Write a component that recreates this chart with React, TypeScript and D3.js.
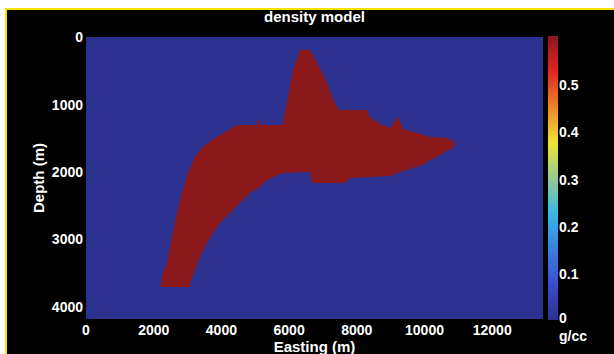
import React from "react";
import * as d3 from "d3";

// Figure size
const W = 614;
const H = 354;

// Axis ticks
const eastingTicks = [0, 2000, 4000, 6000, 8000, 10000, 12000];
const depthTicks = [0, 1000, 2000, 3000, 4000];
const densityTicks = [0, 0.1, 0.2, 0.3, 0.4, 0.5];

// Model extents
const eastingMax = 13500;
const depthMax = 4180;
const densityMax = 0.6;

// Density contrast of the host rock and of the body (g/cc)
const backgroundDensity = 0;
const bodyDensity = 0.6;

// Outline of the dense body: easting (m) and depth (m), clockwise from the toe
const bodyEasting = [
  2216, 2245, 2393, 2540, 2688, 2836, 3013, 3220, 3456, 3722, 4165, 4461, 5051,
  5110, 5170, 5819, 5849, 5967, 6115, 6322, 6617, 6824, 6971, 7119, 7267, 7415,
  7503, 8301, 8389, 8685, 8980, 9216, 9364, 9778, 10162, 10664, 10900, 10841,
  10546, 10369, 10162, 9955, 9660, 9276, 8980, 7799, 7651, 6676, 6617, 5819,
  5347, 5140, 4844, 4549, 4254, 3958, 3752, 3574, 3368, 3220, 3072, 3072,
];
const bodyDepth = [
  3704, 3556, 3348, 2963, 2607, 2311, 2015, 1778, 1630, 1526, 1393, 1304, 1304,
  1200, 1304, 1304, 1185, 889, 489, 193, 193, 385, 519, 681, 889, 1037, 1081,
  1081, 1185, 1289, 1348, 1185, 1363, 1422, 1481, 1496, 1556, 1644, 1719, 1778,
  1822, 1896, 1941, 2000, 2059, 2089, 2163, 2163, 2000, 2015, 2118, 2222, 2311,
  2459, 2607, 2756, 2904, 3052, 3259, 3452, 3644, 3704,
];

// Jet-like palette
const paletteFractions = [0, 0.125, 0.375, 0.625, 0.875, 1];
const paletteColors = ["#2c3190", "#3a4cd0", "#38b6ea", "#f2e232", "#e32620", "#8a1719"];

const FONT = "'Liberation Sans', Arial, Helvetica, sans-serif";

export default function App() {
  const plot = { left: 86, right: 543, top: 37, bottom: 319 };
  const bar = { left: 548, right: 558, top: 36, bottom: 320 };

  const x = d3.scaleLinear().domain([0, eastingMax]).range([plot.left, plot.right]);
  const y = d3.scaleLinear().domain([0, depthMax]).range([plot.top, plot.bottom]);
  const c = d3.scaleLinear().domain([0, densityMax]).range([bar.bottom, bar.top]);

  const color = d3
    .scaleLinear<string>()
    .domain(paletteFractions.map((f) => f * densityMax))
    .range(paletteColors)
    .interpolate(d3.interpolateRgb);

  const body = bodyEasting.map((e, i) => [e, bodyDepth[i]] as [number, number]);
  const bodyPath =
    d3
      .line<[number, number]>()
      .x((d) => x(d[0]))
      .y((d) => y(d[1]))(body) + "Z";

  const gradStops = d3.range(0, 1.0001, 0.02);

  const textStyle = {
    fill: "#fff",
    fontFamily: FONT,
    fontWeight: 700 as const,
  };

  return (
    <svg
      width={W}
      height={H}
      style={{ position: "absolute", left: 0, top: 0, display: "block" }}
    >
      <defs>
        <linearGradient id="densityBar" x1="0" y1="1" x2="0" y2="0">
          {gradStops.map((t) => (
            <stop key={t} offset={t} stopColor={color(t * densityMax)} />
          ))}
        </linearGradient>
      </defs>

      {/* frame */}
      <rect x={0} y={0} width={W} height={H} fill="#fff" />
      <rect x={5} y={8} width={W - 5} height={H - 8} fill="#f6e400" />
      <rect x={7} y={10} width={W - 7} height={H - 10} fill="#000" />

      {/* title */}
      <text x={(plot.left + plot.right) / 2} y={22} textAnchor="middle" fontSize={15} {...textStyle}>
        density model
      </text>

      {/* model section */}
      <rect
        x={plot.left}
        y={plot.top}
        width={plot.right - plot.left}
        height={plot.bottom - plot.top}
        fill={color(backgroundDensity)}
      />
      <path d={bodyPath} fill={color(bodyDensity)} />

      {/* depth axis */}
      {depthTicks.map((t) => (
        <text key={t} x={plot.left - 3} y={y(t)} dy="0.36em" textAnchor="end" fontSize={14} {...textStyle}>
          {t}
        </text>
      ))}
      <text
        transform={`translate(39,${(plot.top + plot.bottom) / 2}) rotate(-90)`}
        textAnchor="middle"
        dy="0.36em"
        fontSize={15}
        {...textStyle}
      >
        Depth (m)
      </text>

      {/* easting axis */}
      {eastingTicks.map((t) => (
        <text key={t} x={x(t)} y={335} textAnchor="middle" fontSize={14} {...textStyle}>
          {t}
        </text>
      ))}
      <text x={(plot.left + plot.right) / 2} y={352} textAnchor="middle" fontSize={15} {...textStyle}>
        Easting (m)
      </text>

      {/* colour bar */}
      <rect
        x={bar.left}
        y={bar.top}
        width={bar.right - bar.left}
        height={bar.bottom - bar.top}
        fill="url(#densityBar)"
      />
      {densityTicks.map((t) => (
        <text
          key={t}
          x={bar.right + 1}
          y={c(t) + (t === 0 ? -2 : 1.5)}
          dy="0.36em"
          fontSize={14}
          {...textStyle}
        >
          {t}
        </text>
      ))}
      <text x={bar.right + 1} y={341} fontSize={14} {...textStyle}>
        g/cc
      </text>
    </svg>
  );
}
